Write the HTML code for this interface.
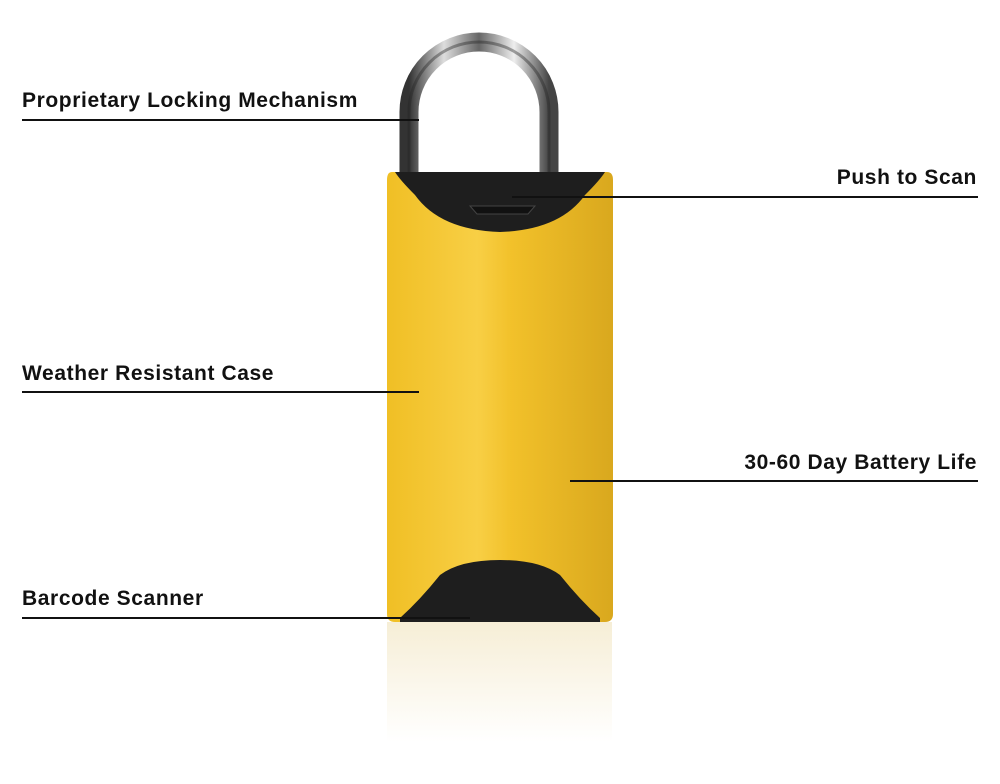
<!DOCTYPE html>
<html><head><style>
html,body{margin:0;padding:0;background:#fff;}
.w{position:relative;width:1000px;height:784px;overflow:hidden;font-family:"Liberation Sans",sans-serif;}
.l{position:absolute;font-weight:bold;font-size:21px;color:#111;letter-spacing:0.6px;}
.ln{position:absolute;height:2px;background:#111;}
</style></head><body><div class="w">
<svg width="1000" height="784" style="position:absolute;left:0;top:0">
<defs>
<linearGradient id="y" x1="0" x2="1">
<stop offset="0" stop-color="#f0bf25"/><stop offset="0.4" stop-color="#f8cf45"/><stop offset="0.55" stop-color="#f2c12a"/><stop offset="1" stop-color="#d9a81e"/></linearGradient>
<linearGradient id="c" x1="0" x2="1">
<stop offset="0" stop-color="#333"/><stop offset="0.25" stop-color="#ddd"/><stop offset="0.5" stop-color="#666"/><stop offset="0.75" stop-color="#eee"/><stop offset="1" stop-color="#444"/></linearGradient>
<linearGradient id="r" x1="0" y1="0" x2="0" y2="1"><stop offset="0" stop-color="#f6eed6"/><stop offset="1" stop-color="#fff"/></linearGradient>
</defs>
<path d="M409 180 V112 A70 70 0 0 1 549 112 V180" fill="none" stroke="url(#c)" stroke-width="19"/>
<path d="M409 180 V112 A70 70 0 0 1 549 112 V180" fill="none" stroke="#222" stroke-width="3" opacity="0.4"/>
<rect x="387" y="622" width="225" height="120" fill="url(#r)"/>
<path d="M392 172 H607 Q613 172 613 180 V614 Q613 622 605 622 H395 Q387 622 387 614 V180 Q387 172 392 172 Z" fill="url(#y)"/>
<path d="M395 172 H605 Q600 180 585 195 Q560 230 500 232 Q440 230 415 195 Q400 180 395 172 Z" fill="#1e1e1e"/>
<path d="M470 206 H535 L528 214 H477 Z" fill="#111" stroke="#444"/>
<path d="M400 618 Q420 600 440 575 Q460 560 500 560 Q540 560 560 575 Q580 600 600 618 V622 H400 Z" fill="#1e1e1e"/>
</svg>
<div class="l" style="left:22px;top:89px">Proprietary Locking Mechanism</div>
<div class="ln" style="left:22px;top:119px;width:397px"></div>
<div class="l" style="right:23px;top:166px">Push to Scan</div>
<div class="ln" style="left:512px;top:196px;width:466px"></div>
<div class="l" style="left:22px;top:362px">Weather Resistant Case</div>
<div class="ln" style="left:22px;top:391px;width:397px"></div>
<div class="l" style="right:23px;top:451px">30-60 Day Battery Life</div>
<div class="ln" style="left:570px;top:480px;width:408px"></div>
<div class="l" style="left:22px;top:587px">Barcode Scanner</div>
<div class="ln" style="left:22px;top:617px;width:448px"></div>
</div></body></html>
